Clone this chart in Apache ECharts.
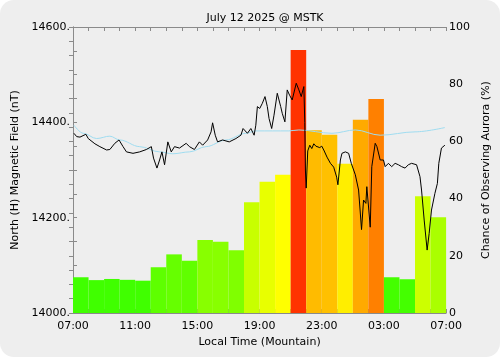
<!DOCTYPE html>
<html>
<head>
<meta charset="utf-8">
<script src="https://cdn.jsdelivr.net/npm/echarts@6/dist/echarts.min.js"></script>
<style>
html,body{margin:0;padding:0;background:#ffffff;}
#chart{width:500px;height:357px;background:#eeeeee;border-radius:14px;overflow:hidden;}
</style>
</head>
<body>
<div id="chart"></div>
<script>
// Hours since 07:00 local time (0..24)
const hourStarts = [0,1,2,3,4,5,6,7,8,9,10,11,12,13,14,15,16,17,18,19,20,21,22,23];
const auroraChance = [12.5,11.5,11.9,11.6,11.3,16,20.5,18.3,25.5,24.9,21.9,38.7,45.9,48.3,92,63.9,62.3,52.2,67.6,74.8,12.5,11.8,40.8,33.5];
const barColors = ['#40ff00','#40ff00','#40ff00','#40ff00','#40ff00','#5eff00','#66ff00','#60ff00','#88ff00','#88ff00','#80ff00','#c8ff00','#e8ff00','#ffff00','#ff3300','#ffbb00','#ffc000','#ffee00','#ffaa00','#ff8000','#44ff00','#44ff00','#ccff00','#aaff00'];

const fieldHours = [0.06,0.24,0.45,0.83,0.98,1.41,1.73,2.16,2.37,2.69,2.96,3.22,3.44,3.86,4.29,4.72,5.04,5.18,5.40,5.57,5.72,5.89,6.10,6.32,6.53,6.85,7.28,7.49,7.81,8.13,8.34,8.66,8.88,8.98,9.15,9.30,9.62,10.05,10.48,10.80,10.94,11.22,11.44,11.65,11.76,11.86,12.01,12.18,12.35,12.50,12.61,12.78,12.93,13.14,13.36,13.46,13.63,13.78,13.93,14.10,14.36,14.53,14.68,14.85,14.91,14.95,15.00,15.10,15.23,15.36,15.49,15.62,15.74,15.87,16.00,16.13,16.34,16.56,16.77,16.96,17.04,17.20,17.30,17.52,17.73,17.90,18.16,18.37,18.56,18.69,18.84,18.90,19.12,19.22,19.44,19.55,19.76,19.97,20.08,20.29,20.50,20.72,20.93,21.14,21.36,21.57,21.78,22.10,22.32,22.42,22.59,22.78,22.91,23.06,23.28,23.44,23.53,23.70,23.92];
const fieldValues = [14377,14370,14369,14375,14366,14355,14349,14342,14343,14356,14363,14349,14338,14335,14338,14343,14349,14325,14304,14321,14338,14311,14359,14338,14349,14346,14356,14349,14343,14359,14352,14363,14380,14399,14373,14359,14363,14359,14366,14373,14387,14377,14387,14373,14394,14433,14429,14440,14454,14433,14408,14387,14415,14461,14433,14419,14401,14468,14457,14447,14482,14468,14454,14475,14400,14300,14262,14340,14352,14345,14355,14350,14352,14347,14350,14342,14327,14314,14306,14285,14269,14321,14335,14338,14335,14314,14290,14258,14175,14237,14230,14265,14180,14307,14356,14349,14321,14321,14307,14314,14307,14314,14311,14307,14304,14311,14314,14311,14286,14258,14195,14132,14167,14216,14251,14272,14314,14346,14352];

const baseHours = [0.06,0.66,1.52,2.37,3.01,4.29,5.57,6.42,7.49,8.56,9.84,11.12,11.76,13.89,14.53,16.66,18.16,19.76,22.0,23.92];
const baseValues = [14394,14377,14366,14371,14363,14349,14338,14334,14338,14349,14363,14377,14382,14382,14384,14377,14384,14373,14380,14389];

const xTickLabels = ['07:00','11:00','15:00','19:00','23:00','03:00','07:00'];
const leftTickLabels = ['14000.','14200.','14400.','14600.'];
const rightTickLabels = ['0','20','40','60','80','100'];

const barData = hourStarts.map((h,i)=>[h, h+1, auroraChance[i]]);
const fieldData = fieldHours.map((h,i)=>[h, fieldValues[i]]);
const baseData = baseHours.map((h,i)=>[h, baseValues[i]]);

const FONT = 'DejaVu Sans';
const axisGray = '#8a8a8a';

const chart = echarts.init(document.getElementById('chart'), null, {renderer:'canvas'});
chart.setOption({
  backgroundColor: 'transparent',
  animation: false,
  title: {
    text: 'July 12 2025 @ MSTK',
    left: 260, top: 8, textAlign: 'center',
    textStyle: {fontFamily: FONT, fontSize: 11, fontWeight: 'normal', color: '#000'}
  },
  grid: {left: 73, right: 52, top: 27, bottom: 44, containLabel: false},
  xAxis: [{
    type: 'value', min: 0, max: 24, interval: 1, position: 'bottom',
    name: 'Local Time (Mountain)', nameLocation: 'middle', nameGap: 22,
    nameTextStyle: {fontFamily: FONT, fontSize: 11, color: '#000'},
    axisLine: {show: true, lineStyle: {color: axisGray}},
    axisTick: {show: true, inside: true, length: 4, lineStyle: {color: axisGray}},
    splitLine: {show: false},
    axisLabel: {
      fontFamily: FONT, fontSize: 11, color: '#000', margin: 8,
      showMinLabel: true, showMaxLabel: true,
      formatter: function(v){ return (Math.round(v) % 4 === 0) ? xTickLabels[Math.round(v)/4] : ''; }
    }
  },{
    type: 'value', min: 0, max: 24, interval: 1, position: 'top',
    axisLine: {show: true, lineStyle: {color: axisGray}},
    axisTick: {show: true, inside: true, length: 4, lineStyle: {color: axisGray}},
    axisLabel: {show: false}, splitLine: {show: false}
  }],
  yAxis: [{
    type: 'value', min: 14000, max: 14600, interval: 50, position: 'left',
    name: 'North (H) Magnetic Field (nT)', nameLocation: 'middle', nameGap: 50,
    nameTextStyle: {fontFamily: FONT, fontSize: 11, color: '#000'},
    axisLine: {show: true, lineStyle: {color: axisGray}},
    axisTick: {show: true, inside: true, length: 4, lineStyle: {color: axisGray}},
    splitLine: {show: false},
    axisLabel: {
      fontFamily: FONT, fontSize: 11, color: '#000', margin: 3,
      formatter: function(v){ const k = Math.round(v - 14000); return (k % 200 === 0) ? leftTickLabels[k/200] : ''; }
    }
  },{
    type: 'value', min: 0, max: 100, interval: 5, position: 'right',
    name: 'Chance of Observing Aurora (%)', nameLocation: 'middle', nameGap: 28, nameRotate: 90,
    nameTextStyle: {fontFamily: FONT, fontSize: 11, color: '#000'},
    axisLine: {show: true, lineStyle: {color: axisGray}},
    axisTick: {show: true, inside: true, length: 4, lineStyle: {color: axisGray}},
    splitLine: {show: false},
    axisLabel: {
      fontFamily: FONT, fontSize: 11, color: '#000', margin: 3,
      formatter: function(v){ const k = Math.round(v); return (k % 20 === 0) ? rightTickLabels[k/20] : ''; }
    }
  }],
  series: [{
    type: 'custom', name: 'Aurora', xAxisIndex: 0, yAxisIndex: 1,
    data: barData,
    encode: {x: [0,1], y: 2},
    renderItem: function(params, api){
      const p0 = api.coord([api.value(0), 0]);
      const p1 = api.coord([api.value(1), api.value(2)]);
      return {type: 'rect', shape: {x: p0[0], y: p1[1], width: p1[0]-p0[0], height: p0[1]-p1[1]},
        style: {fill: barColors[params.dataIndex]}};
    },
    z: 1
  },{
    type: 'line', name: 'Baseline', xAxisIndex: 0, yAxisIndex: 0,
    data: baseData, smooth: 0.35, smoothMonotone: 'x', showSymbol: false,
    lineStyle: {color: '#9fdcf0', width: 1}, z: 3
  },{
    type: 'line', name: 'Field', xAxisIndex: 0, yAxisIndex: 0,
    data: fieldData, showSymbol: false,
    lineStyle: {color: '#000000', width: 1}, z: 4
  }]
});
</script>
</body>
</html>
